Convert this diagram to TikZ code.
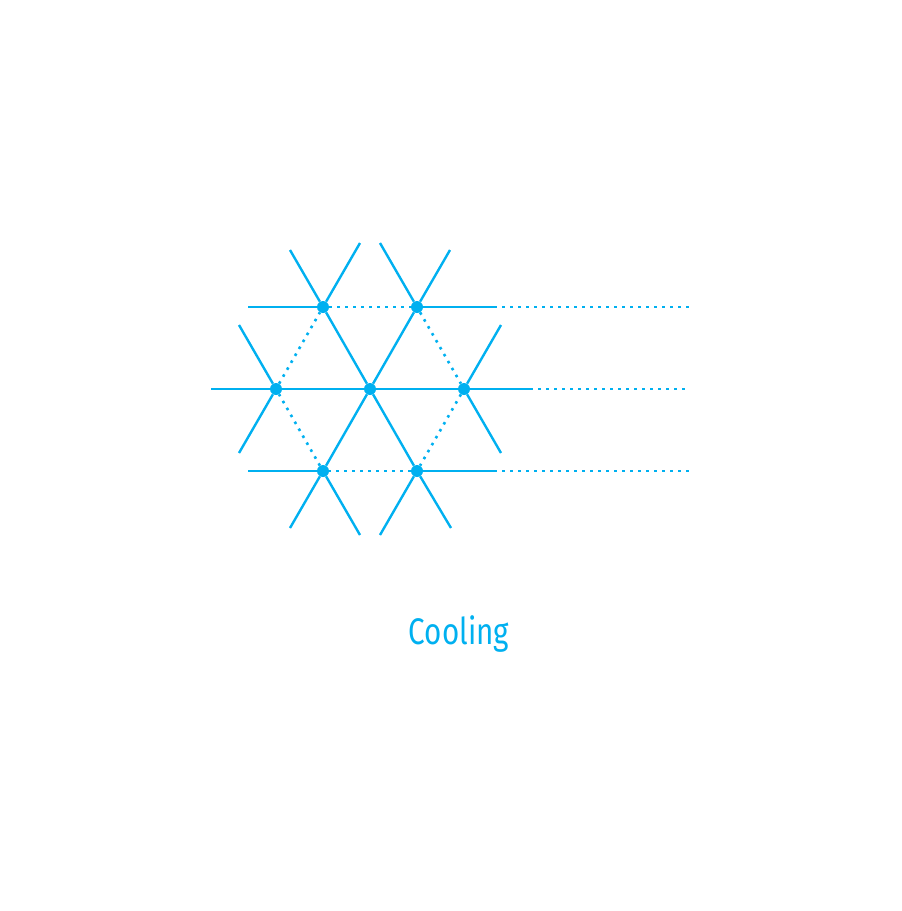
\documentclass[tikz,border=0pt]{standalone}
\usepackage{fontspec}
\newfontfamily\labelfont[FakeStretch=0.8]{Fira Sans}
\definecolor{coolblue}{RGB}{0,176,240}

\begin{document}
\begin{tikzpicture}[x=1pt, y=-1pt,
    bond/.style={coolblue, line width=2.4pt},
    dotbond/.style={coolblue, line width=2.6pt, dash pattern=on 2.6pt off 5.4pt},
    atom/.style={circle, fill=coolblue, inner sep=0pt, minimum size=12pt}]
    \useasboundingbox (0, 0) rectangle (902, 911);

    % lattice points
    \node[atom] (c) at (370, 389) {};
    \node[atom] (r) at (464, 389) {};
    \node[atom] (tr) at (417, 307) {};
    \node[atom] (tl) at (323, 307) {};
    \node[atom] (l) at (276, 389) {};
    \node[atom] (bl) at (323, 471) {};
    \node[atom] (br) at (417, 471) {};

    % free ends
    \coordinate (mw) at (211, 389);
    \coordinate (me) at (530, 389);
    \coordinate (mx) at (688, 389);
    \coordinate (d1a) at (290, 250);
    \coordinate (d1b) at (451, 528);
    \coordinate (d2a) at (450, 250);
    \coordinate (d2b) at (290, 528);
    \coordinate (tw) at (248, 307);
    \coordinate (te) at (494, 307);
    \coordinate (tx) at (690, 307);
    \coordinate (bw) at (248, 471);
    \coordinate (be) at (494, 471);
    \coordinate (bx) at (690, 471);
    \coordinate (e1a) at (360, 243);
    \coordinate (e1b) at (239, 453);
    \coordinate (e2a) at (380, 243);
    \coordinate (e2b) at (501, 453);
    \coordinate (e3a) at (239, 325);
    \coordinate (e3b) at (360, 535);
    \coordinate (e4a) at (501, 325);
    \coordinate (e4b) at (380, 535);

    % lines through the centre
    \draw[bond] (mw) -- (l) -- (c) -- (r) -- (me);
    \draw[bond] (d1a) -- (tl) -- (c) -- (br) -- (d1b);
    \draw[bond] (d2a) -- (tr) -- (c) -- (bl) -- (d2b);

    % outer lines
    \draw[bond] (tw) -- (tl);
    \draw[bond] (tr) -- (te);
    \draw[bond] (bw) -- (bl);
    \draw[bond] (br) -- (be);
    \draw[bond] (e1a) -- (tl);
    \draw[bond] (l) -- (e1b);
    \draw[bond] (e2a) -- (tr);
    \draw[bond] (r) -- (e2b);
    \draw[bond] (e3a) -- (l);
    \draw[bond] (bl) -- (e3b);
    \draw[bond] (e4a) -- (r);
    \draw[bond] (br) -- (e4b);

    % hexagon
    \draw[dotbond] (tl) -- (tr);
    \draw[dotbond] (tr) -- (r);
    \draw[dotbond] (r) -- (br);
    \draw[dotbond] (br) -- (bl);
    \draw[dotbond] (bl) -- (l);
    \draw[dotbond] (l) -- (tl);

    % trailing lines
    \draw[dotbond] (te) -- (tx);
    \draw[dotbond] (me) -- (mx);
    \draw[dotbond] (be) -- (bx);

    \node[coolblue, font=\labelfont\fontsize{37}{42}\selectfont] (cap) at (459, 634) {Cooling};
\end{tikzpicture}
\end{document}
